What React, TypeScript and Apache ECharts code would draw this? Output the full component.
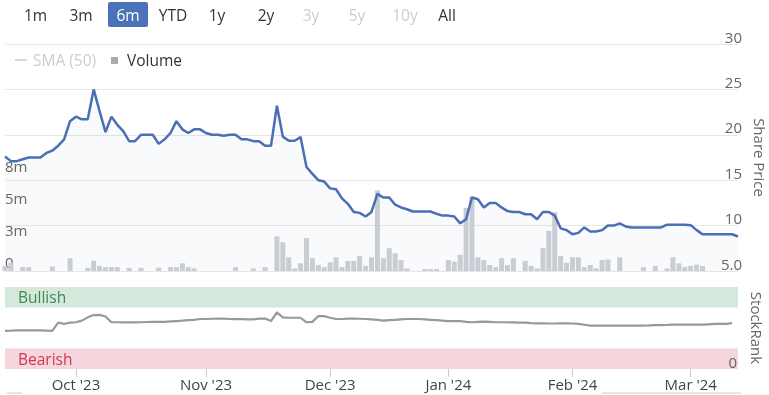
import React, { useEffect, useRef } from 'react';
import * as echarts from 'echarts';

// Trading days shown on the chart (category axis)
const dates: string[] = [
  '2023-09-14','2023-09-15','2023-09-18','2023-09-19','2023-09-20','2023-09-21','2023-09-22','2023-09-25','2023-09-26','2023-09-27','2023-09-28','2023-09-29',
  '2023-10-02','2023-10-03','2023-10-04','2023-10-05','2023-10-06','2023-10-09','2023-10-10','2023-10-11','2023-10-12','2023-10-13','2023-10-16','2023-10-17','2023-10-18','2023-10-19','2023-10-20','2023-10-23','2023-10-24','2023-10-25','2023-10-26','2023-10-27','2023-10-30','2023-10-31',
  '2023-11-01','2023-11-02','2023-11-03','2023-11-06','2023-11-07','2023-11-08','2023-11-09','2023-11-10','2023-11-13','2023-11-14','2023-11-15','2023-11-16','2023-11-17','2023-11-20','2023-11-21','2023-11-22','2023-11-24','2023-11-27','2023-11-28','2023-11-29','2023-11-30',
  '2023-12-01','2023-12-04','2023-12-05','2023-12-06','2023-12-07','2023-12-08','2023-12-11','2023-12-12','2023-12-13','2023-12-14','2023-12-15','2023-12-18','2023-12-19','2023-12-20','2023-12-21','2023-12-22','2023-12-26','2023-12-27','2023-12-28','2023-12-29',
  '2024-01-02','2024-01-03','2024-01-04','2024-01-05','2024-01-08','2024-01-09','2024-01-10','2024-01-11','2024-01-12','2024-01-16','2024-01-17','2024-01-18','2024-01-19','2024-01-22','2024-01-23','2024-01-24','2024-01-25','2024-01-26','2024-01-29','2024-01-30','2024-01-31',
  '2024-02-01','2024-02-02','2024-02-05','2024-02-06','2024-02-07','2024-02-08','2024-02-09','2024-02-12','2024-02-13','2024-02-14','2024-02-15','2024-02-16','2024-02-20','2024-02-21','2024-02-22','2024-02-23','2024-02-26','2024-02-27','2024-02-28','2024-02-29',
  '2024-03-01','2024-03-04','2024-03-05','2024-03-06','2024-03-07','2024-03-08','2024-03-11','2024-03-12','2024-03-13',
];

// Share price (right axis)
const sharePrice: number[] = [
  17.6, 17.1, 17.1, 17.3, 17.5, 17.5, 17.5, 18.0, 18.25, 18.8, 19.5, 21.5,
  22.0, 21.7, 21.7, 25.0, 22.6, 20.3, 22.0, 21.1, 20.4, 19.3, 19.3, 20.0, 20.0, 20.0, 19.0, 19.5, 20.2, 21.5, 20.6, 20.2, 20.6, 20.6,
  20.2, 20.0, 20.0, 19.9, 20.0, 20.0, 19.5, 19.5, 19.3, 19.3, 18.8, 18.8, 23.2, 19.8, 19.35, 19.35, 19.75, 16.45, 15.7, 15.0, 14.85,
  14.1, 14.0, 13.0, 12.4, 11.5, 11.4, 11.0, 11.5, 13.5, 13.1, 13.1, 12.3, 12.0, 11.8, 11.55, 11.55, 11.55, 11.55, 11.3, 11.1,
  11.1, 11.0, 10.25, 10.7, 13.1, 12.9, 12.0, 12.5, 12.5, 12.0, 11.6, 11.5, 11.5, 11.25, 11.25, 10.7, 11.5, 11.5, 11.1, 9.7, 9.5,
  9.05, 9.2, 9.8, 9.35, 9.35, 9.5, 10.0, 10.0, 10.25, 9.9, 9.8, 9.8, 9.8, 9.8, 9.8, 9.8, 10.1, 10.1, 10.1, 10.1,
  10.05, 9.5, 9.05, 9.05, 9.05, 9.05, 9.05, 9.05, 8.8,
];

// Volume, millions of shares (left axis)
const volumeM: number[] = [
  0.4, 0.65, 0, 0.3, 0.3, 0, 0, 0, 0.35, 0, 0, 1.0,
  0, 0, 0.25, 0.8, 0.4, 0.3, 0.3, 0.3, 0, 0.25, 0, 0.25, 0, 0, 0.27, 0, 0.3, 0.3, 0.6, 0.3, 0.2, 0,
  0, 0, 0, 0, 0, 0.3, 0, 0, 0.2, 0, 0.3, 0, 2.7, 2.25, 1.07, 0.2, 0.6, 2.57, 1.0, 0.47, 0.3,
  0.68, 1.07, 0.3, 0.79, 0.79, 1.18, 0.4, 1.07, 6.3, 1.0, 1.78, 1.39, 0.86, 0.2, 0, 0, 0.15, 0.15, 0.15, 0,
  0.86, 0.73, 1.26, 4.93, 5.84, 1.07, 0.86, 0.47, 0.3, 1.0, 0.47, 1.0, 0, 0.79, 0.4, 0.2, 1.78, 3.14, 4.59, 1.18, 0.65,
  1.07, 1.07, 0.3, 0.47, 0.2, 0.86, 0.9, 0, 1.07, 0, 0, 0, 0.3, 0, 0.4, 0, 0.2, 1.07, 0.6, 0.3,
  0.4, 0.5, 0.4, 0, 0, 0, 0, 0, 0,
];

// StockRank (0-100)
const stockRank: number[] = [
  46.5, 46.7, 47, 47, 47, 47, 47, 46.8, 46.5, 56.5, 55, 56.5,
  57, 59, 63, 65.8, 66, 64, 57, 57, 56.9, 56.9, 56.9, 57, 57.3, 57.5, 57.5, 57.5, 58, 58.5, 59, 59.7, 60, 61,
  61, 61.3, 61.5, 61.5, 61, 60.8, 61, 60.5, 60.5, 61.5, 61.5, 58.5, 69, 63, 62.5, 62.5, 62.5, 57, 57.5, 64.5, 64.5,
  62.5, 61, 61, 61.5, 61.5, 61.3, 61, 60.5, 60, 59, 59.5, 60, 60.5, 61, 61, 61, 60.5, 60, 59.5, 59,
  58.5, 58.5, 58.5, 57.5, 57, 57.5, 57.8, 57.5, 57, 57, 57, 56.8, 56.5, 56.5, 56, 55.7, 55.7, 55.5, 55.5, 55.7, 55.7,
  55.5, 55, 54, 53, 52.8, 52.8, 52.8, 53, 53, 53, 53, 53, 53, 53.2, 53.5, 53.5, 53.7, 54, 54, 54,
  54, 54, 54, 54.5, 55, 55, 55, 56,
];

const rangeButtons = ['1m', '3m', '6m', 'YTD', '1y', '2y', '3y', '5y', '10y', 'All'];
const selectedRange = '6m';
const disabledRanges = ['3y', '5y', '10y'];

const MONTHS = ['Jan', 'Feb', 'Mar', 'Apr', 'May', 'Jun', 'Jul', 'Aug', 'Sep', 'Oct', 'Nov', 'Dec'];

function isMonthStart(i: number): boolean {
  if (i <= 0) return false;
  return dates[i].slice(5, 7) !== dates[i - 1].slice(5, 7);
}
function monthLabel(d: string): string {
  return MONTHS[parseInt(d.slice(5, 7), 10) - 1] + " '" + d.slice(2, 4);
}

const FONT = "'Open Sans', 'Noto Sans', sans-serif";

export default function App() {
  const ref = useRef<HTMLDivElement>(null);
  useEffect(() => {
    if (!ref.current) return;
    const chart = echarts.init(ref.current, undefined, { renderer: 'svg' });

    const btnCenters = [35.5, 81, 128, 173, 217, 266, 311, 357, 405, 447];
    const buttonGraphics: any[] = [];
    rangeButtons.forEach((b, i) => {
      const sel = b === selectedRange;
      if (sel) {
        buttonGraphics.push({
          type: 'rect', shape: { x: btnCenters[i] - 20, y: 2, width: 40, height: 25, r: 2 },
          style: { fill: '#4a72b8' }, z: 10,
        });
      }
      buttonGraphics.push({
        type: 'text', x: btnCenters[i], y: 15, z: 11,
        style: {
          text: b, fill: sel ? '#ffffff' : disabledRanges.includes(b) ? '#cccccc' : '#333333',
          font: `15.5px ${FONT}`, textAlign: 'center', textVerticalAlign: 'middle',
        },
      });
    });

    const legendGraphics: any[] = [
      { type: 'line', shape: { x1: 15, y1: 60, x2: 27, y2: 60 }, style: { stroke: '#cccccc', lineWidth: 1.5 } },
      { type: 'text', x: 33, y: 60, style: { text: 'SMA (50)', fill: '#cccccc', font: `15.5px ${FONT}`, textVerticalAlign: 'middle' } },
      { type: 'rect', shape: { x: 111, y: 57, width: 7, height: 7 }, style: { fill: '#aaaaaa' } },
      { type: 'text', x: 127, y: 60, style: { text: 'Volume', fill: '#333333', font: `15.5px ${FONT}`, textVerticalAlign: 'middle' } },
      { type: 'rect', shape: { x: 602, y: 392, width: 139, height: 2 }, style: { fill: '#e6e6e6' } },
      { type: 'rect', shape: { x: 7, y: 392, width: 15, height: 2 }, style: { fill: '#e6e6e6' } },
    ];

    const option: any = {
      animation: false,
      textStyle: { fontFamily: FONT },
      grid: [
        { left: 5, right: 31, top: 44, height: 227, outerBoundsMode: 'none', containLabel: false },
        { left: 5, right: 31, top: 175, height: 96, outerBoundsMode: 'none', containLabel: false },
        { left: 5, right: 31, top: 287, height: 82, outerBoundsMode: 'none', containLabel: false },
      ],
      xAxis: [
        { type: 'category', gridIndex: 0, data: dates, boundaryGap: false, show: false },
        { type: 'category', gridIndex: 1, data: dates, boundaryGap: false, show: false },
        {
          type: 'category', gridIndex: 2, data: dates, boundaryGap: false,
          axisLine: { show: false },
          axisTick: { show: true, length: 8, interval: (i: number) => isMonthStart(i), lineStyle: { color: '#cccccc' } },
          axisLabel: {
            interval: (i: number) => isMonthStart(i), formatter: (v: string) => monthLabel(v),
            color: '#444444', fontSize: 15, margin: 7,
          },
          splitLine: { show: false },
        },
      ],
      yAxis: [
        {
          type: 'value', gridIndex: 0, min: 5, max: 30, interval: 5, position: 'right',
          axisLine: { show: false }, axisTick: { show: false },
          splitLine: { lineStyle: { color: '#e6e6e6' } },
          axisLabel: {
            inside: true, verticalAlign: 'bottom', align: 'right', margin: -4, color: '#666666', fontSize: 15,
            showMinLabel: true, showMaxLabel: true,
            formatter: (v: number) => (v === 5 ? '5.0' : String(v)),
          },
          name: 'Share Price', nameLocation: 'middle', nameRotate: -90, nameGap: 10,
          nameTextStyle: { color: '#666666', fontSize: 15 },
        },
        {
          type: 'value', gridIndex: 1, min: 0, max: 7.5, interval: 2.5, position: 'left',
          axisLine: { show: false }, axisTick: { show: false }, splitLine: { show: false },
          axisLabel: {
            inside: true, verticalAlign: 'bottom', align: 'left', margin: 0, color: '#666666', fontSize: 15,
            padding: [0, 0, 2, 0],
            showMinLabel: true, showMaxLabel: true,
            formatter: (v: number) => (v === 0 ? '0' : Math.round(v) + 'm'),
          },
        },
        {
          type: 'value', gridIndex: 2, min: 0, max: 100, interval: 100, position: 'right', z: 10,
          axisLine: { show: false }, axisTick: { show: false }, splitLine: { show: false },
          axisLabel: {
            inside: true, verticalAlign: 'bottom', align: 'right', margin: 1, color: '#666666', fontSize: 15,
            showMinLabel: true, showMaxLabel: true,
            formatter: (v: number) => (v === 0 ? '0' : ''),
          },
          name: 'StockRank', nameLocation: 'middle', nameRotate: -90, nameGap: 11,
          nameTextStyle: { color: '#666666', fontSize: 15 },
        },
      ],
      series: [
        {
          name: 'Price area', type: 'line', xAxisIndex: 0, yAxisIndex: 0, data: sharePrice,
          symbol: 'none', lineStyle: { width: 0 }, areaStyle: { color: 'rgba(74,110,181,0.05)' },
          z: 1, silent: true,
        },
        {
          name: 'Volume', type: 'bar', xAxisIndex: 1, yAxisIndex: 1, data: volumeM,
          barWidth: 5, itemStyle: { color: '#c9ccd3' }, z: 2, silent: true,
        },
        {
          name: 'Share Price', type: 'line', xAxisIndex: 0, yAxisIndex: 0, data: sharePrice,
          symbol: 'none', lineStyle: { color: '#4a6fb5', width: 2.5 }, z: 3, silent: true,
        },
        {
          name: 'StockRank', type: 'line', xAxisIndex: 2, yAxisIndex: 2, data: stockRank,
          symbol: 'none', lineStyle: { color: '#999999', width: 2.2 }, z: 3, silent: true,
          markArea: {
            silent: true,
            data: [
              [
                { name: 'Bullish', yAxis: 75, itemStyle: { color: '#d5e8dc' },
                  label: { show: true, position: 'insideLeft', distance: 13, color: '#3e8a50', fontSize: 15.5 } },
                { yAxis: 100 },
              ],
              [
                { name: 'Bearish', yAxis: 0, itemStyle: { color: '#f5d6dc' },
                  label: { show: true, position: 'insideLeft', distance: 13, color: '#d23552', fontSize: 15.5 } },
                { yAxis: 25 },
              ],
            ],
          },
        },
      ],
      graphic: [...buttonGraphics, ...legendGraphics],
    };

    chart.setOption(option);
    return () => chart.dispose();
  }, []);

  return <div ref={ref} style={{ position: 'fixed', left: 0, top: 0, width: 769, height: 395 }} />;
}
